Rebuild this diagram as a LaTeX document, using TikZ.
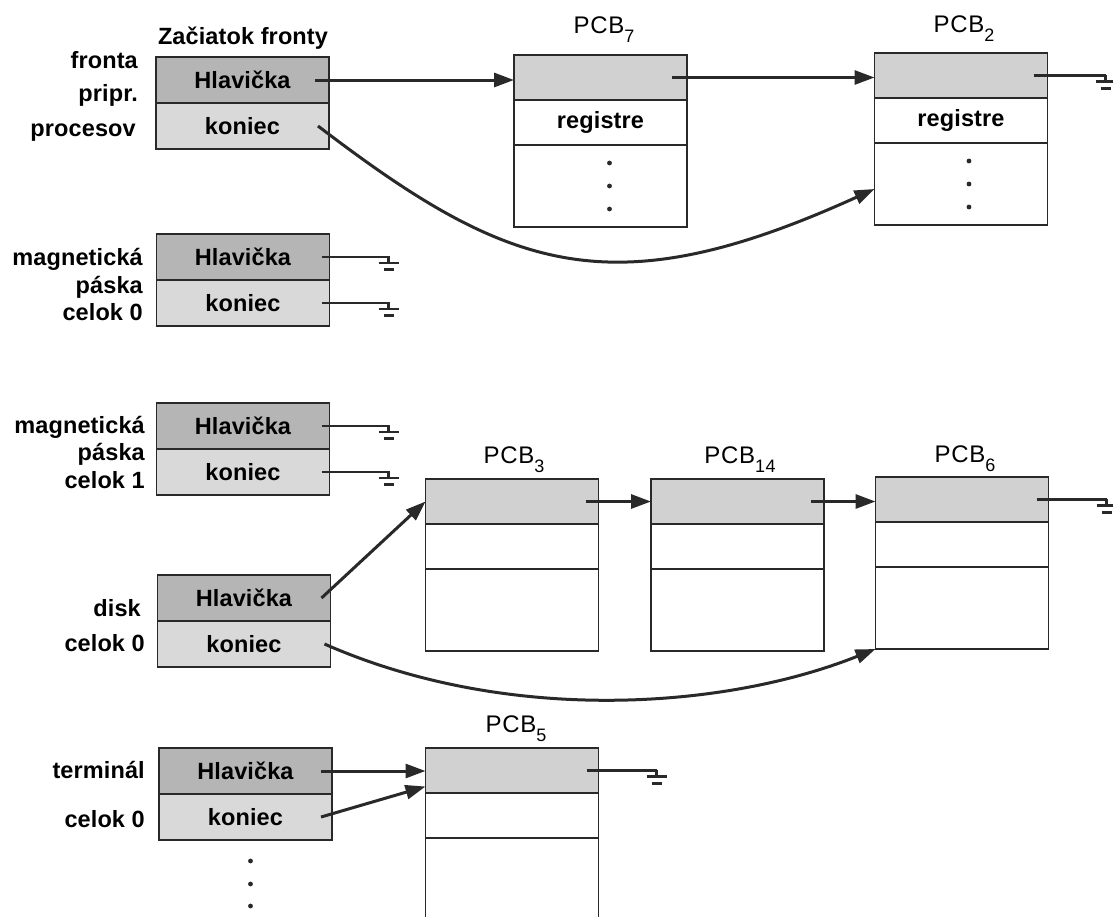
\documentclass[tikz,border=0pt]{standalone}
\usepackage{fontspec}
\setmainfont{Liberation Sans}
\newfontfamily\cellfamily{Liberation Sans}[LetterSpace=0.5]
\newfontfamily\pcbfamily{Liberation Sans}[LetterSpace=3]
\usetikzlibrary{arrows.meta,calc}

\definecolor{ink}{gray}{0.16}
\definecolor{headfill}{gray}{0.71}
\definecolor{tailfill}{gray}{0.85}
\definecolor{pcbfill}{gray}{0.82}

% fonts for labels
\newcommand\qfont{\cellfamily\bfseries\fontsize{23.5}{26}\selectfont}
\newcommand\pcbtext{\pcbfamily\fontsize{24}{26}\selectfont}
\newcommand\pcbsub[1]{\raisebox{-0.38em}{\fontsize{18}{18}\selectfont #1}}

\tikzset{
  cell/.style={draw=ink, line width=1.8pt, minimum width=173pt, inner sep=0pt,
               outer sep=0pt, text=black, font=\qfont},
  headcell/.style={cell, fill=headfill, minimum height=46pt},
  tailcell/.style={cell, fill=tailfill, minimum height=46pt},
  pcbtop/.style={cell, fill=pcbfill, minimum height=45pt},
  pcbmid/.style={cell, fill=white, minimum height=45pt},
  pcbbot/.style={cell, fill=white, minimum height=82pt},
  arr/.style={draw=ink, line width=3pt, -{Triangle[length=20pt,width=14pt]}},
  wire/.style={draw=ink, line width=2.4pt},
  sidelbl/.style={font=\qfont, inner sep=0pt, anchor=base east},
  pcblbl/.style={font=\pcbtext, inner sep=0pt, anchor=base},
  gnd/.pic={
    \draw[ink, line width=2.2pt] (0,-1) -- (0,6) (-10,6) -- (10,6);
    \draw[ink, line width=3pt] (-5,12.5) -- (5,12.5);
  },
}

\begin{document}
\begin{tikzpicture}[x=1pt, y=-1pt]
\useasboundingbox (0,0) rectangle (1113,916);
\clip (0,0) rectangle (1113,916);

% ---------- queue headers ----------
\node[sidelbl, anchor=base] (title) at (243,44) {Začiatok fronty};

\node[headcell] (q1h) at (242.5,80) {Hlavička};
\node[tailcell, anchor=north] (q1k) at (q1h.south) {koniec};
\node[sidelbl] (l1a) at (138,68) {fronta};
\node[sidelbl] (l1b) at (138,101) {pripr.};
\node[sidelbl] (l1c) at (136,136) {procesov};

\node[headcell] (q2h) at (243,257) {Hlavička};
\node[tailcell, anchor=north] (q2k) at (q2h.south) {koniec};
\node[sidelbl] (l2a) at (143,265) {magnetická};
\node[sidelbl] (l2b) at (143,293) {páska};
\node[sidelbl] (l2c) at (143,320) {celok 0};

\node[headcell] (q3h) at (243,426) {Hlavička};
\node[tailcell, anchor=north] (q3k) at (q3h.south) {koniec};
\node[sidelbl] (l3a) at (145,433) {magnetická};
\node[sidelbl] (l3b) at (145,460) {páska};
\node[sidelbl] (l3c) at (145,488) {celok 1};

\node[headcell] (q4h) at (244,598) {Hlavička};
\node[tailcell, anchor=north] (q4k) at (q4h.south) {koniec};
\node[sidelbl] (l4a) at (141,616) {disk};
\node[sidelbl] (l4b) at (145,651) {celok 0};

\node[headcell] (q5h) at (245.5,771) {Hlavička};
\node[tailcell, anchor=north] (q5k) at (q5h.south) {koniec};
\node[sidelbl] (l5a) at (145,778) {terminál};
\node[sidelbl] (l5b) at (145,827) {celok 0};

% more queues follow
\foreach \dy in {21,44,66}
  \fill[ink] ($(q5k.south)+(5,\dy)$) circle (2.4);

% ---------- process control blocks ----------
\node[pcbtop] (p7a) at (600.5,77.5) {};
\node[pcbmid, anchor=north] (p7b) at (p7a.south) {registre};
\node[pcbbot, anchor=north] (p7c) at (p7b.south) {};
\node[pcblbl] (t7) at (604,33) {PCB\pcbsub{7}};
\foreach \dy in {-23,0,23}
  \fill[ink] ($(p7c.center)+(9,\dy)$) circle (2.4);

\node[pcbtop] (p2a) at (961,75.5) {};
\node[pcbmid, anchor=north] (p2b) at (p2a.south) {registre};
\node[pcbbot, anchor=north] (p2c) at (p2b.south) {};
\node[pcblbl] (t2) at (964,32) {PCB\pcbsub{2}};
\foreach \dy in {-23,0,23}
  \fill[ink] ($(p2c.center)+(8,\dy)$) circle (2.4);

\node[pcbtop] (p3a) at (512,501.5) {};
\node[pcbmid, anchor=north] (p3b) at (p3a.south) {};
\node[pcbbot, anchor=north] (p3c) at (p3b.south) {};
\node[pcblbl] (t3) at (514,463) {PCB\pcbsub{3}};

\node[pcbtop] (p14a) at (737.5,501.5) {};
\node[pcbmid, anchor=north] (p14b) at (p14a.south) {};
\node[pcbbot, anchor=north] (p14c) at (p14b.south) {};
\node[pcblbl] (t14) at (740,463) {PCB\pcbsub{14}};

\node[pcbtop] (p6a) at (962,499.5) {};
\node[pcbmid, anchor=north] (p6b) at (p6a.south) {};
\node[pcbbot, anchor=north] (p6c) at (p6b.south) {};
\node[pcblbl] (t6) at (965,462) {PCB\pcbsub{6}};

\node[pcbtop] (p5a) at (512,770.5) {};
\node[pcbmid, anchor=north] (p5b) at (p5a.south) {};
\node[pcbbot, minimum height=100pt, anchor=north] (p5c) at (p5b.south) {};
\node[pcblbl] (t5) at (516,732) {PCB\pcbsub{5}};

% ---------- links ----------
% ready queue
\draw[arr] ([xshift=-14pt]q1h.east) -- (q1h.east -| p7a.west);
\draw[arr] ([xshift=-15pt]p7a.east) -- (p7a.east -| p2a.west);
\draw[wire] ([xshift=-14pt]p2a.east) -- ++(72,0) pic{gnd};
\draw[arr] ([xshift=-11pt]q1k.east) .. controls +(190,145) and +(-264,120) .. ([yshift=-5pt]p2c.west);

% empty tape queues
\draw[wire] ([xshift=-8pt]q2h.east) -- ++(67,0) pic{gnd};
\draw[wire] ([xshift=-8pt]q2k.east) -- ++(67,0) pic{gnd};
\draw[wire] ([xshift=-8pt]q3h.east) -- ++(67,0) pic{gnd};
\draw[wire] ([xshift=-8pt]q3k.east) -- ++(67,0) pic{gnd};

% disk queue
\draw[arr] ([xshift=-9pt]q4h.east) -- (p3a.west);
\draw[arr] ([xshift=-13pt]p3a.east) -- (p3a.east -| p14a.west);
\draw[arr] ([xshift=-13pt]p14a.east) -- (p14a.east -| p6a.west);
\draw[wire] ([xshift=-12pt]p6a.east) -- ++(70,0) pic{gnd};
\draw[arr] ([xshift=-6pt]q4k.east) .. controls +(184,81) and +(-150,60) .. (p6c.south west);

% terminal queue
\draw[arr] ([xshift=-11pt]q5h.east) -- (q5h.east -| p5a.west);
\draw[arr] ([xshift=-11pt]q5k.east) -- ([yshift=-16pt]p5a.west);
\draw[wire] ([xshift=-12pt]p5a.east) -- ++(70,0) pic{gnd};
\end{tikzpicture}
\end{document}
